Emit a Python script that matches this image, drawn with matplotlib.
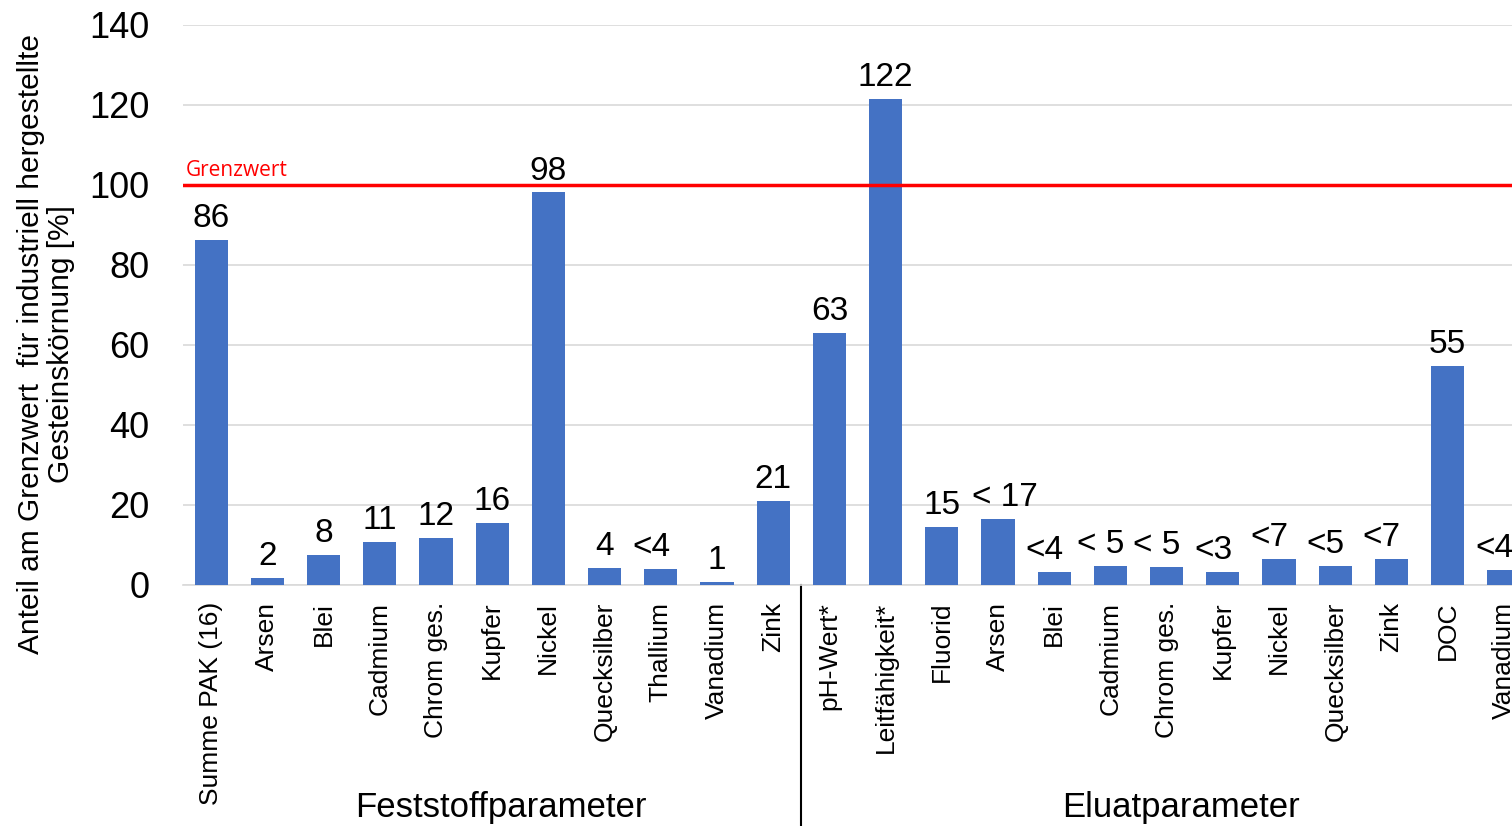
import numpy as np
import matplotlib
matplotlib.use('Agg')
import matplotlib.pyplot as plt
import matplotlib.transforms as mtransforms

plt.rcParams['font.family'] = ['Liberation Sans', 'DejaVu Sans']

# categories (two groups), values and label texts
categories = ['Summe PAK (16)', 'Arsen', 'Blei', 'Cadmium', 'Chrom ges.', 'Kupfer',
              'Nickel', 'Quecksilber', 'Thallium', 'Vanadium', 'Zink',
              'pH-Wert*', 'Leitfähigkeit*', 'Fluorid', 'Arsen', 'Blei', 'Cadmium',
              'Chrom ges.', 'Kupfer', 'Nickel', 'Quecksilber', 'Zink', 'DOC', 'Vanadium']
values = [86.3, 1.8, 7.6, 10.8, 11.8, 15.6, 98.2, 4.3, 4.0, 0.8, 21.0,
          63.0, 121.5, 14.6, 16.6, 3.3, 4.8, 4.6, 3.3, 6.5, 4.8, 6.5, 54.8, 3.8]
labels = ['86', '2', '8', '11', '12', '16', '98', '4', '<4', '1', '21',
          '63', '122', '15', '< 17', '<4', '< 5', '< 5', '<3', '<7', '<5', '<7', '55', '<4']
groups = ['Feststoffparameter', 'Eluatparameter']
n_fest = 11
grenzwert = 100

fig = plt.figure(figsize=(15.12, 8.26), dpi=100)
# axes runs a bit past the right edge of the figure, like the cropped original
ax = fig.add_axes([183 / 1512, 1 - 585 / 826, 1349 / 1512, 560 / 826])

x = np.arange(len(categories))
bars = ax.bar(x, values, width=0.59, color='#4472C4', zorder=3)
anns = ax.bar_label(bars, labels=labels, padding=4, fontsize=24)
# the "<" labels sit a little left of their bars in the original
for a, t in zip(anns, labels):
    if t == '< 17':
        a.xyann = (5, a.xyann[1])
    elif t.startswith('<'):
        a.xyann = (-7, a.xyann[1])

ax.set_xlim(-0.5, len(categories) - 0.5)
ax.set_ylim(0, 140)
ax.set_yticks(np.arange(0, 141, 20))
ax.tick_params(axis='y', length=0, labelsize=26, pad=24)
ax.set_xticks(x)
ax.set_xticklabels(categories, rotation=90, fontsize=19)
ax.tick_params(axis='x', length=0, pad=12)
ax.grid(axis='y', color='#D9D9D9', linewidth=1.2, zorder=0)
for s in ['left', 'right', 'top']:
    ax.spines[s].set_visible(False)
ax.spines['bottom'].set_color('#D9D9D9')
ax.spines['bottom'].set_linewidth(1.2)

# limit line
ax.axhline(grenzwert, color='#FF0000', linewidth=2.5, zorder=4)
ax.text(-0.45, grenzwert + 1, 'Grenzwert', color='#FF0000', fontsize=15,
        family=['Open Sans', 'DejaVu Sans'], va='bottom', ha='left')

# group separator and group labels
trans = mtransforms.blended_transform_factory(ax.transData, ax.transAxes)
ax.plot([n_fest - 0.5, n_fest - 0.5], [0, -0.44], color='black', linewidth=1.5,
        transform=trans, clip_on=False)
ftrans = mtransforms.blended_transform_factory(ax.transData, fig.transFigure)
ax.text((n_fest - 1) / 2 + 0.15, 1 - 808 / 826, groups[0], transform=ftrans,
        ha='center', va='center', fontsize=25)
ax.text((n_fest + len(categories) - 1) / 2 + 0.25, 1 - 808 / 826, groups[1],
        transform=ftrans, ha='center', va='center', fontsize=25)

fig.text(46 / 1512, 1 - 344 / 826,
         'Anteil am Grenzwert  für industriell hergestellte\nGesteinskörnung [%]',
         rotation=90, ha='center', va='center', multialignment='center',
         fontsize=21.5, linespacing=1.05)

fig.savefig('out.png', dpi=100)
